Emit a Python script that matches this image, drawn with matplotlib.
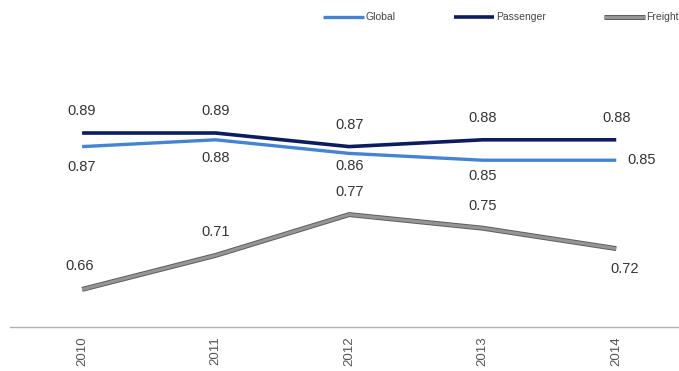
import matplotlib.pyplot as plt
import matplotlib.patheffects as pe

plt.rcParams['font.family'] = ['Liberation Sans', 'DejaVu Sans']

years = [2010, 2011, 2012, 2013, 2014]
global_vals = [0.87, 0.88, 0.86, 0.85, 0.85]
passenger_vals = [0.89, 0.89, 0.87, 0.88, 0.88]
freight_vals = [0.66, 0.71, 0.77, 0.75, 0.72]

fig = plt.figure(figsize=(6.79, 3.71), dpi=100)
ax = fig.add_axes([10 / 679, 44 / 371, 669 / 679, 327 / 371])

c_global = '#4584d2'
c_pass = '#0c1c5e'
c_freight = '#959595'

ax.plot(years, global_vals, color=c_global, lw=2.4, label='Global', solid_capstyle='butt')
ax.plot(years, passenger_vals, color=c_pass, lw=2.6, label='Passenger', solid_capstyle='butt')
ax.plot(years, freight_vals, color=c_freight, lw=2.2, label='Freight', solid_capstyle='butt',
        path_effects=[pe.Stroke(linewidth=3.6, foreground='#5e5e5e'), pe.Normal()])

ax.set_xlim(2009.46, 2014.47)
ax.set_ylim(0.6047, 1.0856)

lbl = dict(fontsize=10.5, color='#333333', ha='center', va='center', textcoords='offset pixels')

# passenger labels sit above the line
for x, v in zip(years, passenger_vals):
    ax.annotate(f'{v:.2f}', (x, v), xytext=(0, 22), **lbl)

# global labels sit below, last one to the right
global_offsets = [(0, -20), (0, -18), (0, -13), (0, -16), (25, 0)]
for x, v, off in zip(years, global_vals, global_offsets):
    ax.annotate(f'{v:.2f}', (x, v), xytext=off, **lbl)

# freight labels above, last one below-right
freight_offsets = [(-2, 23), (0, 23), (0, 23), (0, 22), (8, -20)]
for x, v, off in zip(years, freight_vals, freight_offsets):
    ax.annotate(f'{v:.2f}', (x, v), xytext=off, **lbl)

for s in ['left', 'right', 'top']:
    ax.spines[s].set_visible(False)
ax.spines['bottom'].set_color('#b0b0b0')
ax.spines['bottom'].set_linewidth(1.0)
ax.set_yticks([])
ax.set_xticks(years)
ax.set_xticklabels([str(y) for y in years], rotation=90, fontsize=9.5, color='#555555')
ax.tick_params(axis='x', length=0, pad=7)

ax.legend(loc='upper left', bbox_to_anchor=(306 / 669, 0.985), ncol=3, frameon=False,
          fontsize=7.5, handlelength=3.9, handletextpad=0.15, columnspacing=5.6,
          borderaxespad=0.3, labelcolor='#444444')

fig.savefig('out.png', dpi=100)
